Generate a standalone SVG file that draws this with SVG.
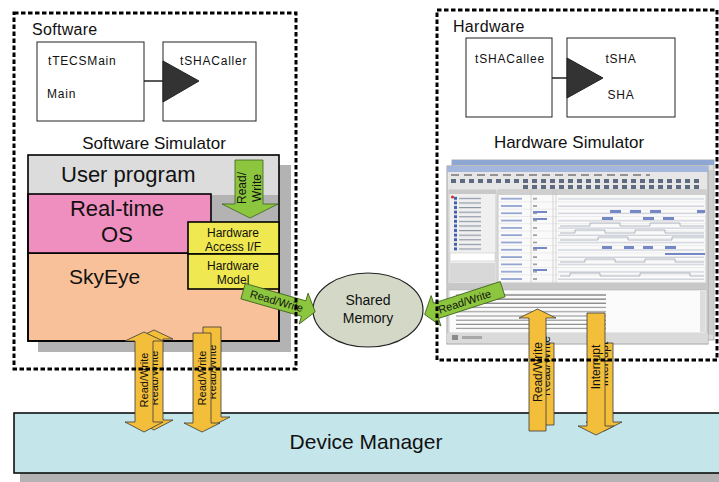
<svg xmlns="http://www.w3.org/2000/svg" width="719" height="482" viewBox="0 0 719 482">
<style>
text{font-family:"Liberation Sans",Arial,Helvetica,sans-serif;fill:#111}
.frame{fill:none;stroke:#000;stroke-width:3;stroke-dasharray:4.5 2.5}
.comp{fill:#fff;stroke:#222;stroke-width:1}
.ct{font-size:12px;letter-spacing:0.8px}
.title{font-size:16px;letter-spacing:0.3px}
.sub{font-size:17px;text-anchor:middle}
.layer{stroke:#000;stroke-width:1.6}
.big{font-size:22px}
.hw{fill:#efe850;stroke:#000;stroke-width:1.6}
.hwt{font-size:12px;text-anchor:middle}
.ga{fill:#8cc63e;stroke:#3d5f1c;stroke-width:0.8}
.ya{fill:#f3bf3a;stroke:#3a3a3a;stroke-width:0.8}
.at{font-size:11px;text-anchor:middle}
.at12{font-size:12px;text-anchor:middle}
.tri{fill:#333;stroke:#222;stroke-width:1}
.wire{stroke:#222;stroke-width:1.5}
.blue{fill:#7388c4}
.step{fill:none;stroke:#a0a6b4;stroke-width:0.8}
</style>
<defs>
<pattern id="listRows" patternUnits="userSpaceOnUse" x="449" y="196" width="47" height="4.6">
<rect x="5" y="0.8" width="3" height="3" fill="#3d5fae"/>
<rect x="10" y="1.8" width="22" height="1.2" fill="#8e96a6"/>
</pattern>
<pattern id="nameRows" patternUnits="userSpaceOnUse" x="498" y="195" width="208" height="7.3">
<rect x="3" y="3" width="21" height="1.4" fill="#7a8fc9"/>
<rect x="35" y="3" width="4" height="1.4" fill="#8a8a8a"/>
<rect x="0" y="6.8" width="208" height="0.5" fill="#dcdcdc"/>
<rect x="60" y="3.4" width="146" height="0.8" fill="#b0b6c4"/>
</pattern>
<pattern id="toolIcons" patternUnits="userSpaceOnUse" x="450" y="178" width="9" height="6">
<rect x="1" y="1" width="5" height="4" fill="#5e6a80"/>
</pattern>
<pattern id="menuItems" patternUnits="userSpaceOnUse" x="450" y="173" width="13" height="4">
<rect x="1" y="1.2" width="8" height="1.6" fill="#7d7d7d"/>
</pattern>
<pattern id="consoleLines" patternUnits="userSpaceOnUse" x="452" y="293" width="257" height="4.2">
<rect x="4" y="1.4" width="150" height="1.1" fill="#8e8e8e"/>
</pattern>
</defs>

<!-- software side components -->
<g id="tTECSMain">
<rect class="comp" x="37" y="42" width="107" height="79"/>
<text class="ct" x="48" y="65">tTECSMain</text>
<text class="ct" x="47" y="98">Main</text>
</g>
<g id="tSHACaller">
<rect class="comp" x="163" y="42" width="93" height="79"/>
<text class="ct" x="180" y="65">tSHACaller</text>
</g>

<!-- software simulator stack -->
<g id="software-simulator">
<rect x="38" y="165" width="253" height="187" fill="#b3b3b3"/>
<rect x="28" y="155" width="251" height="40" fill="#dcdcdc"/>
<rect x="28" y="253" width="251" height="88" fill="#f9c199" class="layer"/>
<rect x="28" y="194" width="183" height="59" fill="#ef8fbf" class="layer"/>
<rect x="28" y="155" width="251" height="186" fill="none" class="layer"/>
<text class="big" x="61" y="182">User program</text>
<text class="big" x="117" y="216" text-anchor="middle">Real-time</text>
<text class="big" x="117" y="242" text-anchor="middle">OS</text>
<text x="69" y="284" style="font-size:21px">SkyEye</text>
</g>
<g id="hardware-access-if">
<rect class="hw" x="188" y="222" width="91" height="32"/>
<text class="hwt" x="233" y="237">Hardware</text>
<text class="hwt" x="233" y="251">Access I/F</text>
</g>
<g id="hardware-model">
<rect class="hw" x="188" y="254" width="91" height="35"/>
<text class="hwt" x="233" y="270">Hardware</text>
<text class="hwt" x="233" y="284">Model</text>
</g>

<!-- hardware side components -->
<g id="tSHACallee">
<rect class="comp" x="466" y="38" width="86" height="79"/>
<text class="ct" x="475" y="63">tSHACallee</text>
</g>
<g id="tSHA">
<rect class="comp" x="567" y="38" width="108" height="79"/>
<text class="ct" x="621" y="63" text-anchor="middle">tSHA</text>
<text class="ct" x="621" y="99" text-anchor="middle">SHA</text>
</g>

<!-- hardware simulator screenshot -->
<g id="hardware-simulator">
<rect x="452" y="160" width="262" height="180" fill="#dedede" stroke="#b0b0b0"/>
<rect x="452" y="160" width="262" height="5" fill="#8ea6d2"/>
<rect x="708" y="170" width="5" height="165" fill="#cfcfcf"/>
<rect x="447" y="166" width="261" height="178" fill="#e6e6e6" stroke="#a0a0a0"/>
<rect x="447" y="166" width="261" height="6" fill="#a3b6dc"/>
<rect x="450" y="173" width="200" height="4" fill="url(#menuItems)"/>
<rect x="450" y="178" width="250" height="6" fill="url(#toolIcons)"/>
<rect x="520" y="184" width="180" height="6" fill="url(#toolIcons)"/>
<rect x="449" y="190" width="47" height="93" fill="#f0f0f0" stroke="#b4b4b4" stroke-width="0.6"/>
<rect x="449" y="190" width="47" height="4" fill="#c8c8c8"/>
<circle cx="452.5" cy="197" r="1.6" fill="#c33"/>
<rect x="449" y="196" width="47" height="55" fill="url(#listRows)"/>
<rect x="450" y="253" width="45" height="8" fill="#fff" stroke="#c0c0c0" stroke-width="0.5"/>
<rect x="450" y="263" width="45" height="19" fill="#d8d8d8"/>
<rect x="498" y="190" width="208" height="93" fill="#fafafa" stroke="#a4a4a4" stroke-width="0.6"/>
<rect x="498" y="190" width="208" height="5" fill="#cfcfcf"/>
<rect x="498" y="195" width="208" height="88" fill="url(#nameRows)"/>
<line x1="531" y1="190" x2="531" y2="283" stroke="#bcbcbc" stroke-width="0.6"/>
<line x1="553" y1="190" x2="553" y2="283" stroke="#bcbcbc" stroke-width="0.6"/>
<line x1="556" y1="190" x2="556" y2="283" stroke="#bcbcbc" stroke-width="0.6"/>
<path class="step" d="M560,226 H590 V223 H620 V226 H650 V223 H680 V226 H704"/>
<path class="step" d="M560,233 H575 V230 H605 V233 H635 V230 H665 V233 H704"/>
<path class="step" d="M560,240 H598 V237 H628 V240 H672 V237 H704"/>
<path class="step" d="M560,262 H585 V259 H615 V262 H645 V259 H675 V262 H704"/>
<path class="step" d="M560,276 H570 V273 H600 V276 H640 V273 H690 V276 H704"/>
<g class="blue">
<rect x="533" y="211" width="14" height="2"/>
<rect x="533" y="218" width="14" height="2"/>
<rect x="533" y="247" width="14" height="2"/>
<rect x="533" y="269" width="14" height="2"/>
<rect x="610" y="210" width="11" height="3"/>
<rect x="630" y="210" width="11" height="3"/>
<rect x="650" y="210" width="11" height="3"/>
<rect x="697" y="210" width="8" height="3"/>
<rect x="602" y="217" width="11" height="3"/>
<rect x="643" y="217" width="11" height="3"/>
<rect x="663" y="217" width="11" height="3"/>
<rect x="602" y="246" width="10" height="3"/>
<rect x="624" y="246" width="10" height="3"/>
<rect x="643" y="246" width="10" height="3"/>
<rect x="665" y="246" width="11" height="3"/>
<rect x="665" y="253" width="40" height="2"/>
</g>
<rect x="447" y="283" width="261" height="7" fill="#c8c8c8"/>
<rect x="449" y="290" width="257" height="43" fill="#fbfbfb" stroke="#b4b4b4" stroke-width="0.6"/>
<rect x="452" y="293" width="160" height="38" fill="url(#consoleLines)"/>
<rect x="470" y="293" width="150" height="12" fill="url(#consoleLines)"/>
<rect x="700" y="291" width="5" height="41" fill="#dcdcdc"/>
<rect x="447" y="333" width="261" height="10" fill="#dadada"/>
<rect x="452" y="335" width="6" height="5" fill="#8a8a8a"/>
<rect x="462" y="336" width="20" height="3" fill="#a8a8a8"/>
</g>

<!-- shared memory -->
<g id="shared-memory">
<ellipse cx="368" cy="310" rx="55" ry="37" fill="#d4d9c7" stroke="#222" stroke-width="1.2"/>
<text x="368" y="305" text-anchor="middle" style="font-size:14px">Shared</text>
<text x="368" y="323" text-anchor="middle" style="font-size:14px">Memory</text>
</g>

<!-- device manager -->
<g id="device-manager">
<rect x="20" y="421" width="699" height="61" fill="#b3b3b3"/>
<rect x="14" y="413" width="710" height="60" fill="#c4e5ea" stroke="#000" stroke-width="1.5"/>
<text x="366" y="449" text-anchor="middle" style="font-size:21px">Device Manager</text>
</g>

<!-- connectors -->
<g id="connectors">
<line class="wire" x1="144" y1="81" x2="163" y2="81"/>
<polygon class="tri" points="163,61 163,102 199,81"/>
<line class="wire" x1="552" y1="78" x2="567" y2="78"/>
<polygon class="tri" points="567,58 567,98 603,78"/>

<path class="ga" d="M235,160 H263 V204 H278 L250,218 L222,204 H235 Z"/>
<text style="font-size:12px" text-anchor="middle" transform="translate(246,188) rotate(-90)">Read/</text>
<text style="font-size:12px" text-anchor="middle" transform="translate(261,188) rotate(-90)">Write</text>

<g transform="translate(282.5,302.5) rotate(16)">
<path class="ga" d="M-41,-8 H22 V-16 L34,0 L22,16 V8 H-41 Z"/>
<text class="at" x="-6" y="4">Read/Write</text>
</g>
<g transform="translate(457,304) rotate(-18)">
<path class="ga" d="M48,-8 H-22 V-16 L-34,0 L-22,16 V8 H48 Z"/>
<text class="at" x="8" y="4">Read/Write</text>
</g>

<path class="ya" d="M154,330 L173,339 H163 V420 H173 L154,430 L135,420 H145 V339 H135 Z"/>
<text class="at" transform="translate(158,378) rotate(-90)">Read/Write</text>
<path class="ya" d="M144,332 L163,341 H153 V422 H163 L144,432 L125,422 H135 V341 H125 Z"/>
<text class="at" transform="translate(148,380) rotate(-90)">Read/Write</text>

<path class="ya" d="M203,327 H221 V417 H230 L212,426 L194,417 H203 Z"/>
<text class="at" transform="translate(216,372) rotate(-90)">Read/Write</text>
<path class="ya" d="M193,333 H211 V423 H220 L202,432 L184,423 H193 Z"/>
<text class="at" transform="translate(206,378) rotate(-90)">Read/Write</text>

<path class="ya" d="M537,343 H554 V425 H537 Z"/>
<text class="at12" transform="translate(550,366) rotate(-90)">Read/Write</text>
<path class="ya" d="M537.5,309 L556,318 H546 V431 H529 V318 H519 Z"/>
<text class="at12" transform="translate(542,372) rotate(-90)">Read/Write</text>

<path class="ya" d="M595,343 H613 V422 H622 L604,431 L586,422 H595 Z"/>
<text class="at12" transform="translate(608,364) rotate(-90)">Interrupt</text>
<path class="ya" d="M587,313 H605 V426 H614 L596,435 L578,426 H587 Z"/>
<text class="at12" transform="translate(600,367) rotate(-90)">Interrupt</text>
</g>

<!-- dashed frames -->
<g id="software-frame">
<rect class="frame" x="14" y="13" width="282" height="356"/>
<text class="title" x="32" y="35">Software</text>
<text class="sub" x="154" y="149">Software Simulator</text>
</g>
<g id="hardware-frame">
<rect class="frame" x="437" y="10" width="280" height="350"/>
<text class="title" x="453" y="32">Hardware</text>
<text class="sub" x="569" y="148">Hardware Simulator</text>
</g>
</svg>
